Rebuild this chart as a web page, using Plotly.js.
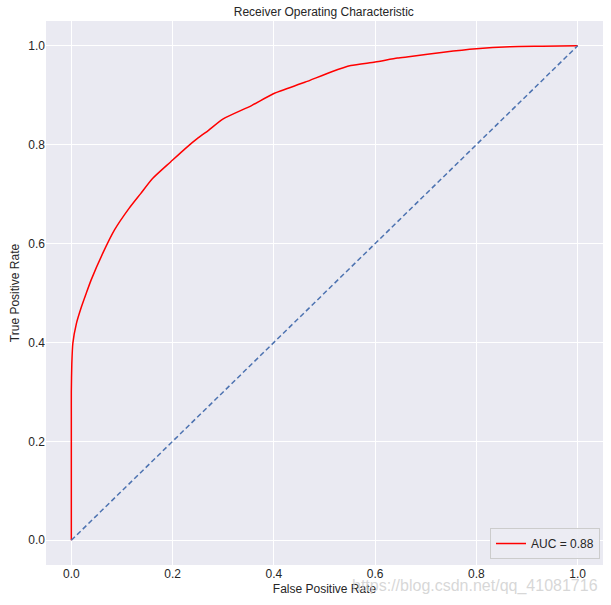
<!DOCTYPE html>
<html>
<head>
<meta charset="utf-8">
<script src="https://cdn.plot.ly/plotly-3.0.1.min.js"></script>
<style>html,body{margin:0;padding:0;background:#fff;}#chart{width:611px;height:605px;}</style>
</head>
<body>
<div id="chart"></div>
<script>
// ROC curve
const fpr = [0, 0, 0, 0.001, 0.003, 0.010, 0.020, 0.029, 0.039, 0.062, 0.085, 0.114, 0.137, 0.16, 0.196, 0.225, 0.251, 0.271, 0.30, 0.356, 0.399, 0.461, 0.513, 0.552, 0.60, 0.644, 0.67, 0.735, 0.80, 0.866, 0.93, 1.0];
const tpr = [0, 0.25, 0.30, 0.357, 0.398, 0.438, 0.472, 0.498, 0.526, 0.58, 0.627, 0.671, 0.701, 0.731, 0.765, 0.792, 0.814, 0.829, 0.852, 0.879, 0.903, 0.926, 0.947, 0.96, 0.967, 0.975, 0.978, 0.987, 0.994, 0.998, 0.999, 1.0];
const diagX = [0, 1];
const diagY = [0, 1];
const aucLabel = "AUC = 0.88";
const tickVals = [0, 0.2, 0.4, 0.6, 0.8, 1.0];
const tickText = ["0.0", "0.2", "0.4", "0.6", "0.8", "1.0"];

const font = "Liberation Sans, Arial, sans-serif";
const txt = {family: font, size: 12, color: "#262626"};
const traces = [
  {x: fpr, y: tpr, type: "scatter", mode: "lines", name: aucLabel,
   line: {color: "#ff0000", width: 1.5, shape: "spline", smoothing: 0.6}},
  {x: diagX, y: diagY, type: "scatter", mode: "lines", showlegend: false,
   line: {color: "#4c72b0", width: 1.5, dash: "5px,3px"}}
];
const axisCommon = {
  range: [-0.05, 1.05], tickvals: tickVals, ticktext: tickText,
  showgrid: true, gridcolor: "#ffffff", gridwidth: 1, zeroline: false,
  showline: false, ticks: "", tickfont: txt
};
const layout = {
  width: 611, height: 605,
  margin: {l: 46, r: 8, t: 21, b: 40},
  paper_bgcolor: "#ffffff", plot_bgcolor: "#eaeaf2",
  font: txt,
  title: {text: "Receiver Operating Characteristic", x: 0.53, xanchor: "center", y: 0.981, yanchor: "middle", font: txt},
  xaxis: Object.assign({}, axisCommon, {title: {text: "False Positive Rate", standoff: 4, font: txt}}),
  yaxis: Object.assign({}, axisCommon, {title: {text: "True Positive Rate", standoff: 6, font: txt}}),
  showlegend: true,
  legend: {x: 0.9946, y: 0.011, xanchor: "right", yanchor: "bottom",
           bgcolor: "rgba(236,236,243,0.9)", bordercolor: "#cccccc", borderwidth: 1, font: txt},
  annotations: [{
    text: "https://blog.csdn.net/qq_41081716", xref: "paper", yref: "paper",
    x: 0.9946, y: -0.0386, xanchor: "right", yanchor: "middle", showarrow: false,
    font: {family: font, size: 16, color: "rgba(205,205,205,0.8)"}
  }]
};
Plotly.newPlot("chart", traces, layout, {displayModeBar: false, staticPlot: true});
</script>
</body>
</html>
